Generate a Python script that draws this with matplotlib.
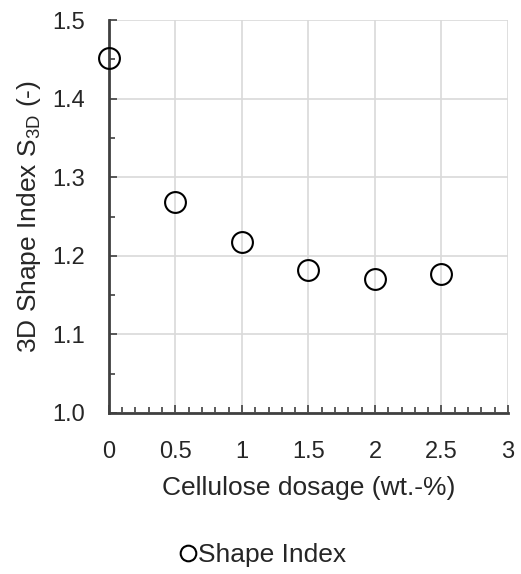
import matplotlib
matplotlib.use("Agg")
import matplotlib.pyplot as plt
from matplotlib.ticker import MultipleLocator

plt.rcParams['font.family'] = ['Liberation Sans', 'DejaVu Sans']

dosage = [0, 0.5, 1, 1.5, 2, 2.5]
shape_index = [1.452, 1.268, 1.217, 1.182, 1.170, 1.177]
xticks = [0, 0.5, 1, 1.5, 2, 2.5, 3]
xticklabels = ['0', '0.5', '1', '1.5', '2', '2.5', '3']
yticks = [1.0, 1.1, 1.2, 1.3, 1.4, 1.5]

fig = plt.figure(figsize=(5.21, 5.74), dpi=100)
ax = fig.add_axes([0.209, 0.2805, 0.766, 0.6845])

ax.plot(dosage, shape_index, linestyle='none', marker='o', markersize=15,
        markerfacecolor='none', markeredgecolor='black', markeredgewidth=1.5,
        label='Shape Index', clip_on=False, zorder=5)

ax.set_xlim(0, 3)
ax.set_ylim(1.0, 1.5)
ax.set_xticks(xticks)
ax.set_xticklabels(xticklabels)
ax.set_yticks(yticks)
ax.set_yticklabels([f'{v:.1f}' for v in yticks])
ax.xaxis.set_minor_locator(MultipleLocator(0.1))
ax.yaxis.set_minor_locator(MultipleLocator(0.05))

ax.grid(True, which='major', color='#d9d9d9', linewidth=1.2)
ax.set_axisbelow(True)
for s in ['top', 'right']:
    ax.spines[s].set_visible(False)
for s in ['left', 'bottom']:
    ax.spines[s].set_color('#404040')
    ax.spines[s].set_linewidth(2)

ax.tick_params(which='major', direction='in', length=6, width=1.2, color='#404040',
               labelsize=17, labelcolor='#262626')
ax.tick_params(axis='x', which='major', pad=20)
ax.tick_params(axis='y', which='major', pad=17)
ax.tick_params(which='minor', direction='in', length=4, width=1.2, color='#404040')

ax.set_xlabel('Cellulose dosage (wt.-%)', fontsize=19, color='#262626')
ax.set_ylabel('3D Shape Index S$_{\\mathregular{3D}}$ (-)', fontsize=19, color='#262626')
ax.xaxis.set_label_coords(0.5, -0.16)
ax.yaxis.set_label_coords(-0.165, 0.5)

fig.legend(loc='center', bbox_to_anchor=(0.505, 0.033), frameon=False, fontsize=19,
           handlelength=0.6, handletextpad=0.05, markerscale=0.75, labelcolor='#262626')

fig.savefig('out.png', dpi=100)
